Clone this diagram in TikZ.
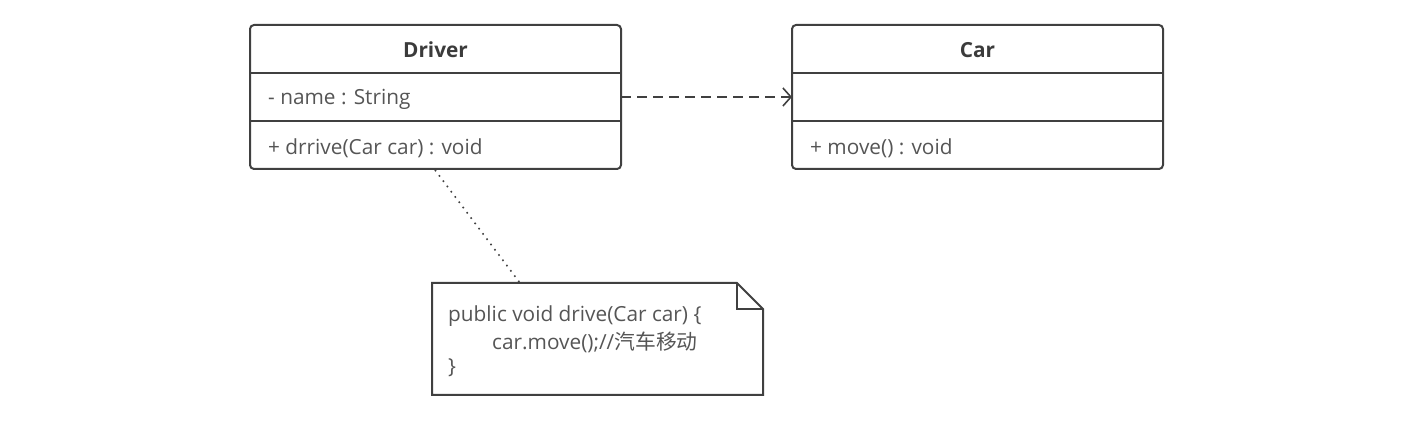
\documentclass[tikz,border=0pt]{standalone}
\usepackage{fontspec}
\setmainfont{Open Sans}
\newfontfamily\cjk{Noto Sans CJK SC}
\usetikzlibrary{arrows.meta}
\definecolor{linec}{HTML}{404040}
\definecolor{textc}{HTML}{555555}
\begin{document}
\begin{tikzpicture}[x=1pt,y=-1pt,
  boxline/.style={draw=linec,line width=2pt},
  member/.style={anchor=west,text=textc,font=\fontsize{20.8}{24}\selectfont,inner sep=0pt},
  title/.style={text=textc!70!black,font=\fontsize{20.8}{24}\selectfont\bfseries,inner sep=0pt},
  notetext/.style={anchor=west,text=textc,font=\fontsize{20.8}{24}\selectfont,inner sep=0pt}]
\useasboundingbox (0,0) rectangle (1401,427);
% Driver class
\draw[boxline,rounded corners=4pt] (250,25) rectangle (621,169);
\draw[boxline] (250,73) -- (621,73);
\draw[boxline] (250,121) -- (621,121);
\node[title] (drivertitle) at (435.5,50) {Driver};
\node[member] (drivername) at (268,99) {- name : String};
\node[member] (driverop) at (268,148) {+ drrive(Car car) : void};
\coordinate (driverR) at (621,97);
\coordinate (driverB) at (435,170);
% Car class
\draw[boxline,rounded corners=4pt] (792,25) rectangle (1163,169);
\draw[boxline] (792,73) -- (1163,73);
\draw[boxline] (792,121) -- (1163,121);
\node[title] (cartitle) at (977.5,50) {Car};
\node[member] (carop) at (810,148) {+ move() : void};
\coordinate (carL) at (792,97);
% Note
\draw[boxline] (432,283) -- (737,283) -- (763,309) -- (763,395) -- (432,395) -- cycle;
\draw[boxline] (737,283) -- (737,309) -- (763,309);
\node[notetext] (n1) at (448,316) {public void drive(Car car) \{};
\node[notetext] (n2) at (492,342) {car.move();//{\cjk 汽车移动}};
\node[notetext] (n3) at (448,368) {\}};
\coordinate (noteT) at (520,283);
% connectors
\draw[linec,line width=1.6pt,dash pattern=on 10pt off 6pt,-{Straight Barb[length=8pt,width=18pt,line width=1.6pt]}] (driverR) -- (carL);
\draw[linec,line width=1.6pt,dash pattern=on 1.6pt off 5pt] (driverB) -- (noteT);
\end{tikzpicture}
\end{document}
